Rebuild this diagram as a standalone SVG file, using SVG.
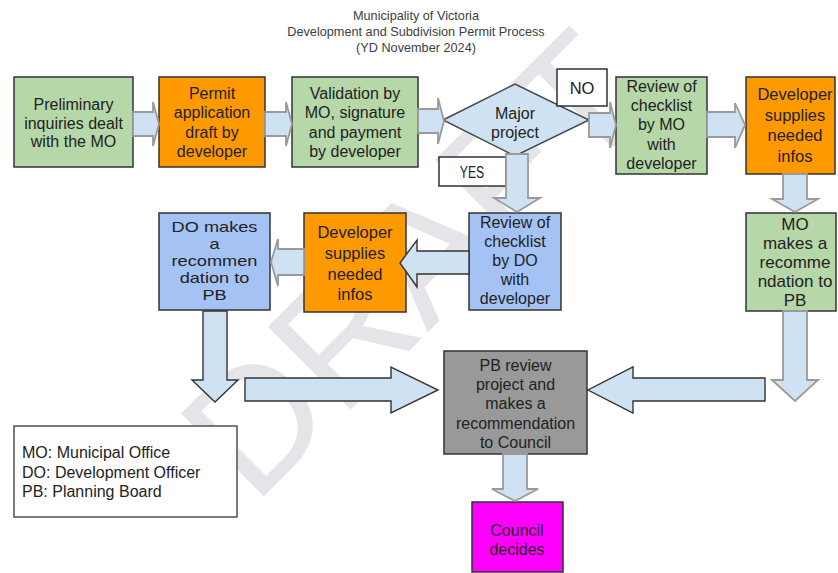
<svg xmlns="http://www.w3.org/2000/svg" width="838" height="573" viewBox="0 0 838 573">
<style>
text{font-family:"Liberation Sans",Arial,sans-serif;fill:#222;text-anchor:middle}
.t{font-size:16px}
.t165{font-size:16.5px}
.box{stroke:#333;stroke-width:1.5}
.green{fill:#b6d7a8}
.orange{fill:#ff9900}
.blue{fill:#a4c2f4}
.arr{fill:#cfe2f3;stroke:#9a9a9a;stroke-width:1.8;stroke-linejoin:miter}
.arrd{fill:#cfe2f3;stroke:#333;stroke-width:1.4}
.title{font-size:12.7px;fill:#3c4043}
</style>
<rect width="838" height="573" fill="#ffffff"/>
<text id="watermark" transform="translate(254 506) rotate(-45)" x="0" y="0" style="font-size:170px;fill:#e4e4e9;text-anchor:start">DRAFT</text>
<g id="title" class="title">
<text class="title" x="416" y="19.5">Municipality of Victoria</text>
<text class="title" x="416" y="36">Development and Subdivision Permit Process</text>
<text class="title" x="416" y="52">(YD November 2024)</text>
</g>
<g id="n1"><rect class="box green" x="14" y="77" width="119" height="90"/>
<text class="t" x="73.5" y="110">Preliminary</text><text class="t" x="73.5" y="128.5">inquiries dealt</text><text class="t" x="73.5" y="147">with the MO</text></g>
<g id="n2"><rect class="box orange" x="159" y="77" width="106" height="90"/>
<text class="t" x="212" y="98.5">Permit</text><text class="t" x="212" y="118">application</text><text class="t" x="212" y="137.5">draft by</text><text class="t" x="212" y="157">developer</text></g>
<g id="n3"><rect class="box green" x="292" y="77" width="126" height="90"/>
<text class="t" x="355" y="99">Validation by</text><text class="t" x="355" y="118.3">MO, signature</text><text class="t" x="355" y="137.6">and payment</text><text class="t" x="355" y="156.9">by developer</text></g>
<g id="n4"><polygon points="443,120 515,84 589,120 515,156" fill="#cfe2f3" stroke="#444" stroke-width="1.4"/>
<text class="t" x="515" y="118.5">Major</text><text class="t" x="515" y="137.5">project</text></g>
<g id="no"><rect x="557" y="69" width="50" height="37" fill="#fff" stroke="#222" stroke-width="1.4"/>
<text class="t165" x="582" y="94">NO</text></g>
<g id="yes"><rect x="439" y="157" width="67" height="29" fill="#fff" stroke="#222" stroke-width="1.4"/>
<text class="t" transform="translate(472 0) scale(0.76 1)" x="0" y="178">YES</text></g>
<g id="n5"><rect class="box green" x="616" y="77" width="91" height="97"/>
<text class="t" x="661.5" y="92">Review of</text><text class="t" x="661.5" y="111.2">checklist</text><text class="t" x="661.5" y="130.4">by MO</text><text class="t" x="661.5" y="149.6">with</text><text class="t" x="661.5" y="168.8">developer</text></g>
<g id="n6"><rect class="box orange" x="746" y="77" width="89" height="97"/>
<text class="t165" x="795" y="100">Developer</text><text class="t165" x="795" y="120.6">supplies</text><text class="t165" x="795" y="141.2">needed</text><text class="t165" x="795" y="161.8">infos</text></g>
<g id="n7"><rect class="box green" x="746" y="213" width="90" height="98"/>
<text x="795" y="230" style="font-size:17px">MO</text><text x="795" y="249" style="font-size:17px">makes a</text><text x="795" y="268" style="font-size:17px">recomme</text><text x="795" y="287" style="font-size:17px">ndation to</text><text x="795" y="306" style="font-size:17px">PB</text></g>
<g id="n8"><rect class="box blue" x="469" y="213" width="92" height="97"/>
<text class="t" x="515" y="228.3">Review of</text><text class="t" x="515" y="247.3">checklist</text><text class="t" x="515" y="266.3">by DO</text><text class="t" x="515" y="285.3">with</text><text class="t" x="515" y="304.3">developer</text></g>
<g id="n9"><rect class="box orange" x="304" y="213" width="102" height="99"/>
<text class="t165" x="355" y="238.3">Developer</text><text class="t165" x="355" y="258.9">supplies</text><text class="t165" x="355" y="279.5">needed</text><text class="t165" x="355" y="300.1">infos</text></g>
<g id="n10"><rect class="box blue" x="159" y="213" width="111" height="97"/>
<g transform="translate(214.5 0) scale(1.3 1)" style="font-size:14px">
<text x="0" y="232.3" style="font-size:14px">DO makes</text><text x="0" y="249.3" style="font-size:14px">a</text><text x="0" y="266.3" style="font-size:14px">recommen</text><text x="0" y="283.3" style="font-size:14px">dation to</text><text x="0" y="300.3" style="font-size:14px">PB</text></g></g>
<g id="n11"><rect class="box" x="444" y="351" width="143" height="103" fill="#999999"/>
<text class="t" x="515.5" y="370.7">PB review</text><text class="t" x="515.5" y="390">project and</text><text class="t" x="515.5" y="409.3">makes a</text><text class="t" x="515.5" y="428.5">recommendation</text><text class="t" x="515.5" y="447.7">to Council</text></g>
<g id="n12"><rect class="box" x="472" y="502" width="91" height="70" fill="#ff00ff"/>
<text class="t" x="517" y="536">Council</text><text class="t" x="517" y="555">decides</text></g>
<g id="legend"><rect x="14" y="426" width="223" height="91" fill="#fff" stroke="#444" stroke-width="1.4"/>
<text class="t" x="22" y="458" style="text-anchor:start">MO: Municipal Office</text>
<text class="t" x="22" y="477.5" style="text-anchor:start">DO: Development Officer</text>
<text class="t" x="22" y="497" style="text-anchor:start">PB: Planning Board</text></g>
<g id="connectors">
<polygon class="arr" points="133,112 153,112 153,102 159,124 153,146 153,136 133,136"/>
<polygon class="arr" points="265,112 286,112 286,102 292,124 286,146 286,136 265,136"/>
<polygon class="arr" points="418,109 438,109 438,98 444,121 438,144 438,133 418,133"/>
<polygon class="arr" points="589,113 610,113 610,102 616,125 610,148 610,137 589,137"/>
<polygon class="arr" points="707,112 735,112 735,103 745,125 735,148 735,137 707,137"/>
<polygon class="arr" points="783,174 807,174 807,199 818,199 795,212 772,199 783,199"/>
<polygon class="arr" points="506,154 528,154 528,198 540,198 517,212 494,198 506,198"/>
<polygon class="arrd" points="469,251 417,251 417,240 400,263 417,287 417,274 469,274"/>
<polygon class="arr" points="304,249 278,249 278,239 271,262 278,286 278,275 304,275"/>
<polygon class="arrd" points="203,311 227,311 227,380 238,380 215,402 192,380 203,380"/>
<polygon class="arrd" points="245,378 391,378 391,367 438,390 391,413 391,401 245,401"/>
<polygon class="arrd" points="765,378 633,378 633,367 588,390 633,413 633,401 765,401"/>
<polygon class="arr" points="783,311 807,311 807,380 818,380 795,401 772,380 783,380"/>
<polygon class="arr" points="503,454 527,454 527,489 538,489 515,501 492,489 503,489"/>
</g>
</svg>
